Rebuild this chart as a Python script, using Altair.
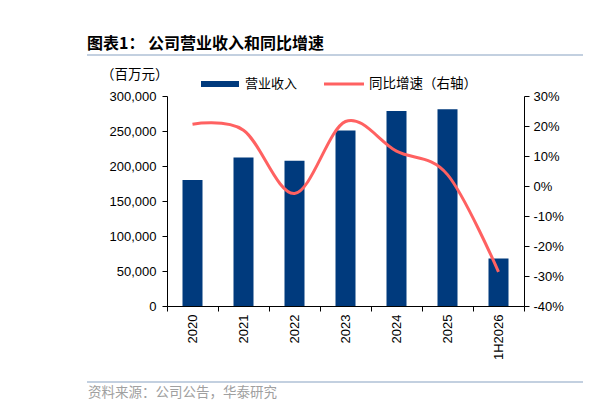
import altair as alt
import pandas as pd

categories = ["2020", "2021", "2022", "2023", "2024", "2025", "1H2026"]
revenue = [180000, 212000, 207500, 250800, 278700, 281000, 68000]
growth = [20.6, 18.6, -2.5, 21.5, 11.6, 3.8, -28.6]
left_ticks = [0, 50000, 100000, 150000, 200000, 250000, 300000]
right_ticks = [-40, -30, -20, -10, 0, 10, 20, 30]

df = pd.DataFrame({"cat": categories, "rev": revenue, "g": growth})

W, H = 357, 210
NUM_FONT = "Liberation Sans"
CJK = "Noto Sans CJK SC"
BAR = "#003a7d"
RED = "#ff6161"

x_axis = alt.Axis(title=None, labelAngle=270, tickBand="extent", grid=False,
                  domainColor="black", tickColor="black", tickSize=5,
                  labelFont=NUM_FONT, labelFontSize=13, labelColor="black",
                  labelPadding=3)
x_scale = alt.Scale(paddingInner=0, paddingOuter=0)

bars = alt.Chart(df).mark_bar(color=BAR, size=20).encode(
    x=alt.X("cat:N", sort=categories, scale=x_scale, axis=x_axis),
    y=alt.Y("rev:Q", scale=alt.Scale(domain=[0, 300000], nice=False),
            axis=alt.Axis(title=None, values=left_ticks, format=",.0f", grid=False,
                          orient="left", domainColor="black", tickColor="black",
                          tickSize=5, labelFont=NUM_FONT, labelFontSize=13,
                          labelColor="black", labelPadding=6)),
)

line = alt.Chart(df).mark_line(color=RED, strokeWidth=3, interpolate="cardinal").encode(
    x=alt.X("cat:N", sort=categories, scale=x_scale, axis=x_axis),
    y=alt.Y("g:Q", scale=alt.Scale(domain=[-40, 30], nice=False),
            axis=alt.Axis(title=None, values=right_ticks, labelExpr="datum.value + '%'",
                          grid=False, orient="right", domainColor="black",
                          tickColor="black", tickSize=5, labelFont=NUM_FONT,
                          labelFontSize=13, labelColor="black", labelPadding=4)),
)

one = pd.DataFrame({"k": [0]})

def txt(s, x, y, size=13, color="black", weight="normal", align="left"):
    return alt.Chart(one).mark_text(font=CJK, fontSize=size, color=color,
                                    fontWeight=weight, align=align,
                                    baseline="middle").encode(
        x=alt.value(x), y=alt.value(y), text=alt.value(s))

def hline(x1, x2, y, color, w):
    return alt.Chart(one).mark_rule(color=color, strokeWidth=w).encode(
        x=alt.value(x1), x2=alt.value(x2), y=alt.value(y))

title = txt("图表1： 公司营业收入和同比增速", -80, -52, size=16, weight="bold")
title_line = hline(-80, 416, -41, "#c3d0e0", 2)
unit = txt("（百万元）", -66, -21, size=13.5)
leg_rect = alt.Chart(one).mark_rect(color=BAR).encode(
    x=alt.value(34), x2=alt.value(72), y=alt.value(-15), y2=alt.value(-9))
leg_t1 = txt("营业收入", 78, -12)
leg_line = hline(157, 197, -12, RED, 3)
leg_t2 = txt("同比增速（右轴）", 202, -12, size=13.5)
src_line = hline(-80, 416, 286, "#c3d0e0", 2)
src = txt("资料来源：公司公告，华泰研究", -79, 297, size=13.5, color="#a0a0a0")

chart = alt.layer(
    bars, line, title, title_line, unit, leg_rect, leg_t1, leg_line, leg_t2, src_line, src
).resolve_scale(y="independent").properties(
    width=W, height=H,
    padding={"left": 159, "top": 88, "right": 84, "bottom": 97},
    autosize=alt.AutoSizeParams(type="none"),
).configure_view(stroke=None)

chart.save("out.html", embed_options={"renderer": "svg", "actions": False})
